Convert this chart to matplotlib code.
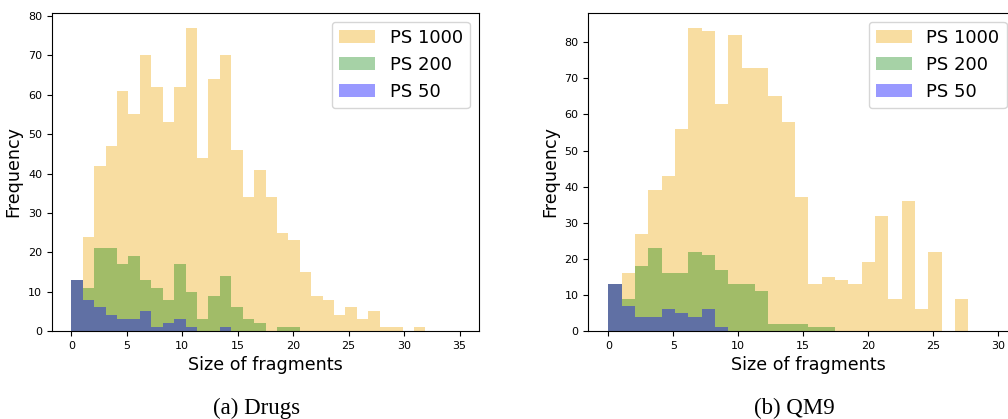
import numpy as np
import matplotlib

matplotlib.use("Agg")  # headless
import matplotlib.pyplot as plt

# bin edges (34 bins over 0..35 and 30 bins over 0..30.8)
drugs_edges = np.linspace(0, 35, 35)
qm9_edges = np.linspace(0, 30.77, 31)

labels = ["PS 1000", "PS 200", "PS 50"]

drugs_ps1000 = [13, 24, 42, 47, 61, 55, 70, 62, 53, 62, 77, 44, 64, 70, 46, 34, 41,
                34, 25, 23, 15, 9, 8, 4, 6, 3, 5, 1, 1, 0, 1, 0, 0, 0]
drugs_ps200 = [13, 11, 21, 21, 17, 19, 13, 11, 8, 17, 10, 3, 9, 14, 6, 3, 2,
               0, 1, 1, 0, 0, 0, 0, 0, 0, 0, 0, 0, 0, 0, 0, 0, 0]
drugs_ps50 = [13, 8, 6, 4, 3, 3, 5, 1, 2, 3, 1, 0, 0, 1, 0, 0, 0,
              0, 0, 0, 0, 0, 0, 0, 0, 0, 0, 0, 0, 0, 0, 0, 0, 0]

qm9_ps1000 = [13, 16, 27, 39, 43, 56, 84, 83, 63, 82, 73, 73, 65, 58, 37,
              13, 15, 14, 13, 19, 32, 9, 36, 6, 22, 0, 9, 0, 0, 0]
qm9_ps200 = [13, 9, 18, 23, 16, 16, 22, 21, 17, 13, 13, 11, 2, 2, 2,
             1, 1, 0, 0, 0, 0, 0, 0, 0, 0, 0, 0, 0, 0, 0]
qm9_ps50 = [13, 7, 4, 4, 6, 5, 4, 6, 1, 0, 0, 0, 0, 0, 0,
            0, 0, 0, 0, 0, 0, 0, 0, 0, 0, 0, 0, 0, 0, 0]

colors = ["#eeaa14", "green", "blue"]
alphas = [0.4, 0.35, 0.4]


def draw(ax, edges, series):
    centers = (edges[:-1] + edges[1:]) / 2
    for counts, lab, c, a in zip(series, labels, colors, alphas):
        ax.hist(centers, bins=edges, weights=counts, histtype="stepfilled",
                color=c, alpha=a, label=lab)
    ax.set_xlabel("Size of fragments", fontsize=12.6)
    ax.set_ylabel("Frequency", fontsize=12.6)
    ax.tick_params(labelsize=8)


fig = plt.figure(figsize=(10.08, 4.19), dpi=100)

ax1 = fig.add_axes([52 / 1008, 88 / 419, 427 / 1008, 318.3 / 419])
draw(ax1, drugs_edges, [drugs_ps1000, drugs_ps200, drugs_ps50])
ax1.legend(loc="upper right", fontsize=13)

ax2 = fig.add_axes([588.3 / 1008, 88 / 419, 440 / 1008, 318.3 / 419])
draw(ax2, qm9_edges, [qm9_ps1000, qm9_ps200, qm9_ps50])
ax2.legend(loc="upper right", fontsize=13, bbox_to_anchor=(0.9714, 1.0))

fig.text(256.7 / 1008, 1 - 414 / 419, "(a) Drugs", ha="center", va="baseline",
         family="Liberation Serif", fontsize=16.5)
fig.text(794.2 / 1008, 1 - 414 / 419, "(b) QM9", ha="center", va="baseline",
         family="Liberation Serif", fontsize=16.5)

fig.savefig("out.png", dpi=100)
plt.close(fig)
